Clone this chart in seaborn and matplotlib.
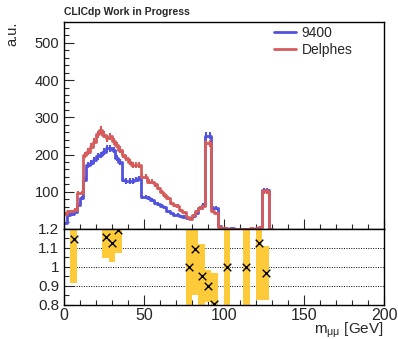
import numpy as np
import pandas as pd
import matplotlib
matplotlib.use("Agg")
import matplotlib.pyplot as plt
import seaborn as sns
from matplotlib.ticker import MultipleLocator

sns.set_style("white")
plt.rcParams['font.family'] = ['Liberation Sans', 'DejaVu Sans']
plt.rcParams['mathtext.fontset'] = 'custom'
plt.rcParams['mathtext.rm'] = 'Liberation Sans'
plt.rcParams['mathtext.it'] = 'Liberation Sans'

# 2 GeV bins, 0 - 130 GeV (empty above)
bin_lo = np.arange(0, 130, 2)
delphes = [41, 47, 47, 52, 97, 97, 199, 208, 221, 235,
           254, 266, 253, 244, 249, 236, 226, 213, 200, 190,
           180, 172, 172, 172, 141, 141, 127, 127, 120, 110,
           100, 90, 82, 70, 64, 62, 50, 45, 33, 27,
           37, 47, 56, 61, 230, 230, 47, 43, 5, 2,
           2, 1, 1, 1, 1, 0, 1, 1, 2, 0,
           4, 5, 101, 101, 0]
full_9400 = [16, 38, 40, 46, 65, 83, 132, 172, 177, 186,
             195, 199, 208, 217, 217, 212, 190, 180, 132, 129,
             129, 129, 132, 136, 87, 87, 83, 78, 70, 67,
             63, 58, 48, 43, 38, 38, 34, 33, 30, 30,
             34, 43, 56, 65, 250, 250, 56, 56, 8, 3,
             2, 1, 2, 1, 0, 0, 1, 1, 0, 1,
             3.5, 4.5, 105, 105, 1]

# ratio Delphes / 9400 in 4 GeV bins (points inside the window only)
ratio_x = [6, 26, 30, 34, 78, 82, 86, 90, 94, 102, 114, 122, 126]
ratio_y = [1.148, 1.157, 1.124, 1.193, 1.0, 1.094, 0.95, 0.90, 0.805, 1.0, 1.0, 1.124, 0.968]
ratio_err = [0.234, 0.11, 0.10, 0.12, 0.3, 0.24, 0.17, 0.085, 0.165, 0.3, 0.3, 0.3, 0.14]

blue = '#5252e0'
red = '#d65c5c'
band = '#fdca3a'

fig = plt.figure(figsize=(3.98, 3.39), dpi=100)
ax = fig.add_axes([0.161, 0.3245, 0.804, 0.6105])
rax = fig.add_axes([0.161, 0.1003, 0.804, 0.2242])

centers = bin_lo + 1
for vals, col in [(full_9400, blue), (delphes, red)]:
    df = pd.DataFrame({'m': centers.astype(float), 'w': np.asarray(vals, dtype=float)})
    sns.histplot(data=df, x='m', weights='w', bins=65, binrange=(0, 130),
                 element='step', fill=False, color=col, linewidth=2, ax=ax)
    ax.errorbar(centers, vals, yerr=np.sqrt(vals) * 0.6, fmt='none', ecolor=col,
                elinewidth=1.5, capsize=0)

ax.set_xlim(0, 200)
ax.set_ylim(0, 556)
ax.set_yticks([100, 200, 300, 400, 500])
ax.yaxis.set_minor_locator(MultipleLocator(20))
ax.xaxis.set_major_locator(MultipleLocator(50))
ax.xaxis.set_minor_locator(MultipleLocator(10))
ax.set_xticklabels([])
ax.set_xlabel('')
ax.set_ylabel('')
ax.tick_params(which='both', direction='in', left=True, bottom=True, labelsize=10.5)
ax.tick_params(which='major', length=7, width=0.8)
ax.tick_params(which='minor', length=3.5, width=0.8)

ax.legend(handles=[plt.Line2D([], [], color=blue, lw=2), plt.Line2D([], [], color=red, lw=2)],
          labels=['9400', 'Delphes'], loc='upper left', bbox_to_anchor=(0.63, 1.02),
          frameon=False, fontsize=10, handlelength=1.6, handletextpad=0.4,
          labelspacing=0.2, borderaxespad=0.2)

# ratio panel
rax.bar(ratio_x, [2 * e for e in ratio_err], bottom=[y - e for y, e in zip(ratio_y, ratio_err)],
        width=4, color=band, linewidth=0)
sns.scatterplot(x=ratio_x, y=ratio_y, marker='x', color='black', s=30, linewidth=1, ax=rax, zorder=3)
for yy in [0.9, 1.0, 1.1]:
    rax.axhline(yy, color='black', linestyle=(0, (1, 1.5)), linewidth=0.7, zorder=0)
rax.set_xlim(0, 200)
rax.set_ylim(0.8, 1.2)
rax.set_yticks([0.8, 0.9, 1.0, 1.1, 1.2])
rax.set_yticklabels(['0.8', '0.9', '1', '1.1', '1.2'])
rax.yaxis.set_minor_locator(MultipleLocator(0.05))
rax.xaxis.set_major_locator(MultipleLocator(50))
rax.xaxis.set_minor_locator(MultipleLocator(10))
rax.tick_params(which='both', direction='in', left=True, bottom=True)
rax.tick_params(axis='x', labelsize=11.5, pad=2)
rax.tick_params(axis='y', labelsize=11)
rax.tick_params(which='major', length=7, width=0.8)
rax.tick_params(which='minor', length=3.5, width=0.8)

for a in (ax, rax):
    for s in a.spines.values():
        s.set_color('black')
        s.set_linewidth(1)

fig.text(0.161, 0.955, 'CLICdp Work in Progress', fontsize=7.5, fontweight='bold', ha='left', va='baseline')
fig.text(0.03, 0.935, 'a.u.', rotation=90, fontsize=10.5, ha='center', va='top')
fig.text(0.965, 0.016, r'm$_{\mu\mu}$ [GeV]', fontsize=11, ha='right', va='baseline')

fig.savefig('out.png', dpi=100)
